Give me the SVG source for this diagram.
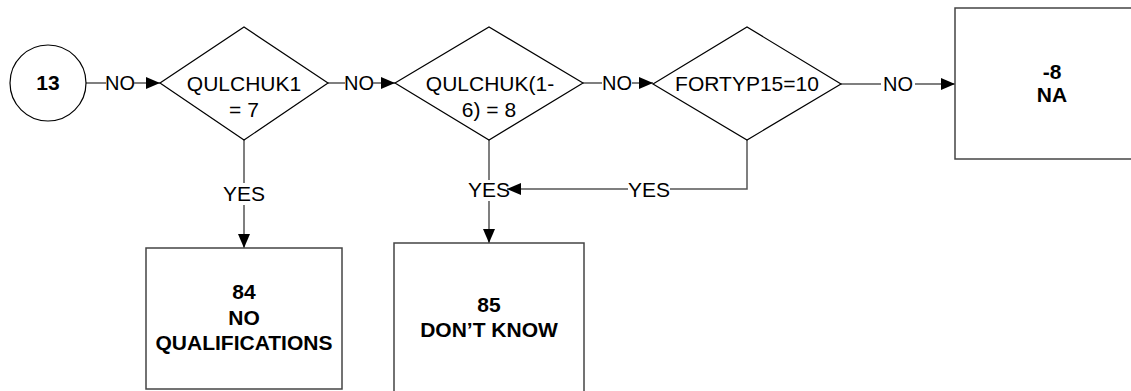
<svg xmlns="http://www.w3.org/2000/svg" width="1131" height="391" viewBox="0 0 1131 391">
<style>
text{font-family:"Liberation Sans",Arial,sans-serif;font-size:21px;fill:#000;text-anchor:middle}
.b{font-weight:bold}
.no{font-size:20px}
.shape{fill:#fff;stroke:#000;stroke-width:1.2}
.box{fill:#fff;stroke:#444;stroke-width:1.5}
.ln{fill:none;stroke:#555;stroke-width:1.5}
</style>
<defs>
<marker id="ah" markerWidth="14" markerHeight="12" refX="14" refY="6" orient="auto" markerUnits="userSpaceOnUse">
<path d="M0,0 L14,6 L0,12 Z" fill="#000"/>
</marker>
</defs>
<rect width="1131" height="391" fill="#fff"/>
<g id="connectors">
<line class="ln" x1="86" y1="83" x2="106" y2="83"/>
<text class="no" x="120" y="90">NO</text>
<line class="ln" x1="134" y1="83" x2="160" y2="83" marker-end="url(#ah)"/>
<line class="ln" x1="328" y1="83" x2="345" y2="83"/>
<text class="no" x="359" y="90">NO</text>
<line class="ln" x1="373" y1="83" x2="395" y2="83" marker-end="url(#ah)"/>
<line class="ln" x1="583" y1="83" x2="602" y2="83"/>
<text class="no" x="617" y="90">NO</text>
<line class="ln" x1="632" y1="83" x2="653" y2="83" marker-end="url(#ah)"/>
<line class="ln" x1="841" y1="84" x2="881" y2="84"/>
<text class="no" x="898" y="91">NO</text>
<line class="ln" x1="915" y1="84" x2="955" y2="84" marker-end="url(#ah)"/>
<line class="ln" x1="244" y1="140" x2="244" y2="183"/>
<text x="244" y="201">YES</text>
<line class="ln" x1="244" y1="205" x2="244" y2="248" marker-end="url(#ah)"/>
<line class="ln" x1="489" y1="140" x2="489" y2="180"/>
<text x="489" y="197">YES</text>
<line class="ln" x1="489" y1="201" x2="489" y2="243" marker-end="url(#ah)"/>
<polyline class="ln" points="747,140 747,189 670,189"/>
<text x="649" y="197">YES</text>
<line class="ln" x1="628" y1="189" x2="507" y2="189" marker-end="url(#ah)"/>
</g>
<g id="n13">
<circle class="shape" cx="48" cy="83" r="38"/>
<text class="b" x="48" y="90">13</text>
</g>
<g id="qulchuk1">
<polygon class="shape" points="160,83 244,27 328,83 244,140"/>
<text x="244" y="91">QULCHUK1</text>
<text x="244" y="117">= 7</text>
</g>
<g id="qulchuk16">
<polygon class="shape" points="395,83 489,27 583,83 489,140"/>
<text x="490" y="91">QULCHUK(1-</text>
<text x="489" y="117">6) = 8</text>
</g>
<g id="fortyp15">
<polygon class="shape" points="653,84 747,27 841,84 747,140"/>
<text x="747" y="91">FORTYP15=10</text>
</g>
<g id="na">
<rect class="box" x="955" y="8" width="194" height="151"/>
<text class="b" x="1052" y="79">-8</text>
<text class="b" x="1052" y="102">NA</text>
</g>
<g id="noqual">
<rect class="box" x="146" y="248" width="196" height="141"/>
<text class="b" x="244" y="299">84</text>
<text class="b" x="244" y="325">NO</text>
<text class="b" x="244" y="350">QUALIFICATIONS</text>
</g>
<g id="dontknow">
<rect class="box" x="394" y="243" width="190" height="160"/>
<text class="b" x="489" y="312">85</text>
<text class="b" x="489" y="337">DON’T KNOW</text>
</g>
</svg>
